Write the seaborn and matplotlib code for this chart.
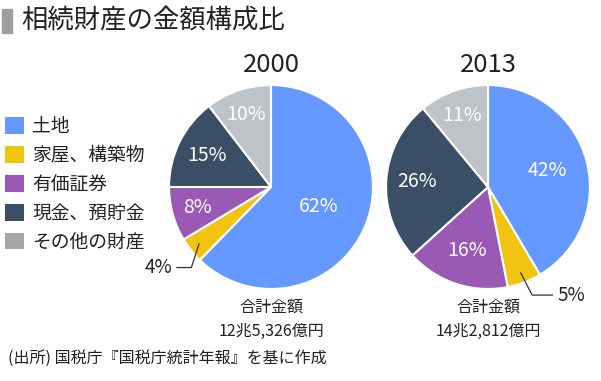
import matplotlib
matplotlib.use("Agg")
import matplotlib.pyplot as plt
from matplotlib.patches import Patch, Rectangle
import numpy as np
import seaborn as sns

# data
categories = ["土地", "家屋、構築物", "有価証券", "現金、預貯金", "その他の財産"]
years = ["2000", "2013"]
shares_2000 = [62.3, 4.1, 8.6, 14.6, 10.4]
shares_2013 = [41.5, 5.4, 16.4, 25.7, 11.0]
labels_2000 = ["62%", "4%", "8%", "15%", "10%"]
labels_2013 = ["42%", "5%", "16%", "26%", "11%"]
totals = ["12兆5,326億円", "14兆2,812億円"]

colors = ["#6699FF", "#F1C40F", "#9B59B6", "#3A4F66", "#BDC3C7"]
legend_colors = ["#6699FF", "#F1C40F", "#9B59B6", "#3A4F66", "#A6A6A6"]

sns.set_theme(style="white")
plt.rcParams['font.family'] = ['Noto Sans CJK JP', 'DejaVu Sans']

W, H = 601, 381
fig = plt.figure(figsize=(W / 100, H / 100), dpi=100)
palette = sns.color_palette(colors)

R = 104  # pie radius in px


def pie_axes(cx, cy):
    return fig.add_axes([(cx - R) / W, (H - cy - R) / H, 2 * R / W, 2 * R / H])


def draw_pie(ax, shares, labels, label_r, small_idx, small_text, small_angle, year, total):
    wedges, _ = ax.pie(shares, colors=palette, startangle=90, counterclock=False,
                       radius=1, wedgeprops=dict(edgecolor="white", linewidth=1.5))
    ax.set_xlim(-1.02, 1.02)
    ax.set_ylim(-1.02, 1.02)
    ax.set_aspect("equal")
    ax.axis("off")
    for i, w in enumerate(wedges):
        mid = np.deg2rad((w.theta1 + w.theta2) / 2)
        if i == small_idx:
            px, py = 0.9 * np.cos(mid), 0.9 * np.sin(mid)
            tx, ty = small_text
            ax.annotate(labels[i], xy=(px, py), xytext=(tx, ty),
                        ha="right" if tx < 0 else "left", va="center",
                        fontsize=13.5, color="#222222",
                        arrowprops=dict(arrowstyle="-", color="#333333", lw=0.9,
                                        shrinkA=1, shrinkB=0,
                                        connectionstyle=f"angle,angleA=0,angleB={small_angle}"))
            continue
        r = label_r[i]
        ax.text(r * np.cos(mid), r * np.sin(mid), labels[i], ha="center", va="center",
                color="white", fontsize=14)
    ax.text(0, 1.07, year, ha="center", va="bottom", fontsize=18.5, color="#222222")
    ax.text(0, -1.1, "合計金額", ha="center", va="top", fontsize=11.5, color="#222222")
    ax.text(0, -1.33, total, ha="center", va="top", fontsize=11.5, color="#222222")


ax1 = pie_axes(271, 187)
draw_pie(ax1, shares_2000, labels_2000, [0.5, 0, 0.75, 0.7, 0.75],
         1, (-0.97, -0.79), 72, years[0], totals[0])

ax2 = pie_axes(488, 187)
draw_pie(ax2, shares_2013, labels_2013, [0.6, 0, 0.66, 0.7, 0.75],
         1, (0.68, -1.06), -63, years[1], totals[1])

# title with gray bar
fig.patches.append(Rectangle((2 / W, 1 - 33 / H), 10 / W, 24 / H, transform=fig.transFigure,
                             color="#9E9E9E"))
fig.text(21 / W, 1 - 20.5 / H, "相続財産の金額構成比", fontsize=19, va="center", ha="left",
         color="#222222")

# legend
handles = [Patch(facecolor=c, edgecolor="none") for c in legend_colors]
fig.legend(handles, categories, loc="upper left", bbox_to_anchor=(5 / W, 1 - 116 / H),
           frameon=False, fontsize=13.5, handlelength=1.0, handleheight=1.0,
           handletextpad=0.45, labelspacing=0.42, borderpad=0, borderaxespad=0,
           labelcolor="#222222")

fig.text(8 / W, 1 - 358 / H, "(出所) 国税庁『国税庁統計年報』を基に作成", fontsize=11.5,
         va="center", ha="left", color="#222222")

fig.savefig("out.png", dpi=100)
